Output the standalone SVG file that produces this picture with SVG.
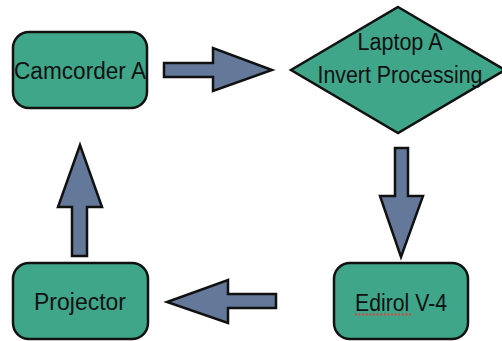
<svg xmlns="http://www.w3.org/2000/svg" width="502" height="341" viewBox="0 0 502 341">
<style>
.node{fill:#3fa68a;stroke:#111;stroke-width:2.5}
.arrow{fill:#64799a;stroke:#111;stroke-width:2.5;stroke-linejoin:miter}
.lbl{font-family:"Liberation Sans",Arial,sans-serif;font-size:23px;fill:#111;text-anchor:middle}
</style>
<rect width="502" height="341" fill="#fff"/>
<g id="connectors">
<polygon class="arrow" points="164,63 213,63 213,48 272,70 213,91 213,77 164,77"/>
<polygon class="arrow" points="395,148 408,148 408,196 423,196 401,257 380,196 395,196"/>
<polygon class="arrow" points="276,294 228,294 228,280 167,302 228,323 228,308 276,308"/>
<polygon class="arrow" points="72,256 72,207 58,207 80,145 102,207 87,207 87,256"/>
</g>
<g id="camcorder">
<rect class="node" x="13" y="32" width="134" height="76" rx="16"/>
<text class="lbl" x="80" y="79" textLength="132" lengthAdjust="spacingAndGlyphs">Camcorder A</text>
</g>
<g id="laptop">
<polygon class="node" points="398,7 505,70 398,133 291,70"/>
<text class="lbl" x="400" y="50" textLength="85" lengthAdjust="spacingAndGlyphs">Laptop A</text>
<text class="lbl" x="400" y="83" textLength="165" lengthAdjust="spacingAndGlyphs">Invert Processing</text>
</g>
<g id="edirol">
<rect class="node" x="334" y="263" width="134" height="76" rx="16"/>
<text class="lbl" x="401" y="311" textLength="92" lengthAdjust="spacingAndGlyphs">Edirol V-4</text>
<line x1="355" y1="314.5" x2="411" y2="314.5" stroke="#d9463f" stroke-width="1.8" stroke-dasharray="2,1.6"/>
</g>
<g id="projector">
<rect class="node" x="13" y="263" width="135" height="76" rx="16"/>
<text class="lbl" x="80" y="310" textLength="92" lengthAdjust="spacingAndGlyphs">Projector</text>
</g>
</svg>
